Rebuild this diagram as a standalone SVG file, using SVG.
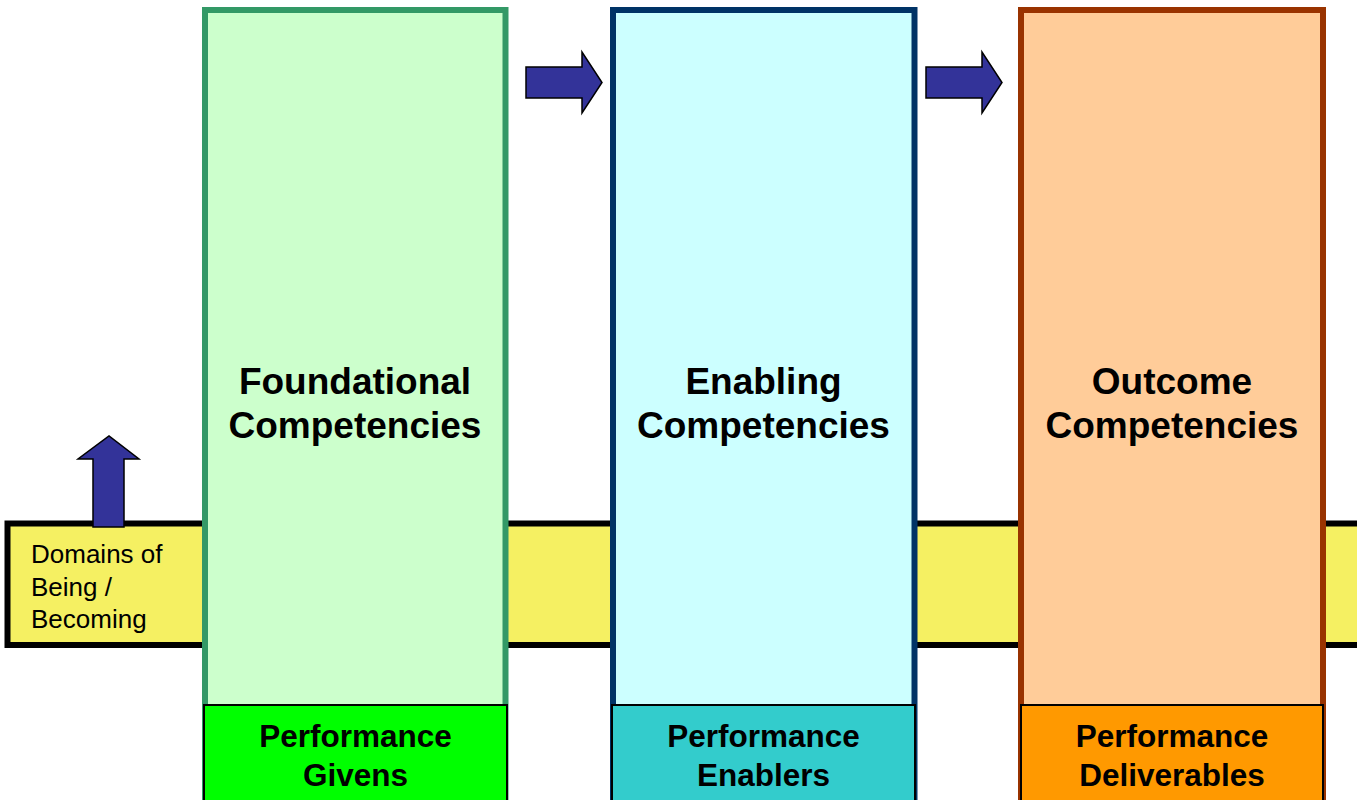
<svg xmlns="http://www.w3.org/2000/svg" width="1357" height="800" viewBox="0 0 1357 800">
  <defs>
    <style>
      .band { fill: #F5F062; stroke: #000000; stroke-width: 6; }
      .col { stroke-width: 6; }
      .arrow { fill: #333399; stroke: #000000; stroke-width: 1.5; stroke-linejoin: miter; }
      .perf { stroke: #000000; stroke-width: 2; }
      .title { font-family: "Liberation Sans", Arial, sans-serif; font-weight: bold; font-size: 37px; fill: #000000; text-anchor: middle; }
      .ptext { font-family: "Liberation Sans", Arial, sans-serif; font-weight: bold; font-size: 31.5px; fill: #000000; text-anchor: middle; }
      .dtext { font-family: "Liberation Sans", Arial, sans-serif; font-size: 26px; fill: #000000; }
    </style>
  </defs>
  <rect width="1357" height="800" fill="#FFFFFF"/>

  <!-- horizontal band behind the columns -->
  <g id="domains">
    <rect class="band" x="7.5" y="523.5" width="1360" height="121.5"/>
    <text class="dtext" x="31" y="563">Domains of</text>
    <text class="dtext" x="31" y="596">Being /</text>
    <text class="dtext" x="31" y="628">Becoming</text>
  </g>

  <g id="connectors">
    <!-- upward arrow on the band -->
    <polygon class="arrow" points="93,527 93,459 78,459 109,436 139,459 124,459 124,527"/>
    <!-- right arrows between columns -->
    <polygon class="arrow" points="526,67 582,67 582,52 602,82.5 582,113 582,98 526,98"/>
    <polygon class="arrow" points="926,67 982,67 982,52 1002,82.5 982,113 982,98 926,98"/>
  </g>

  <g id="foundational">
    <rect class="col" x="205" y="10" width="300.5" height="800" fill="#CCFFCC" stroke="#339966"/>
    <text class="title" x="355" y="394">Foundational</text>
    <text class="title" x="355" y="438">Competencies</text>
  </g>

  <g id="enabling">
    <rect class="col" x="613" y="10" width="301.5" height="800" fill="#CCFFFF" stroke="#003366"/>
    <text class="title" x="763.5" y="394">Enabling</text>
    <text class="title" x="763.5" y="438">Competencies</text>
  </g>

  <g id="outcome">
    <rect class="col" x="1021" y="10" width="302" height="800" fill="#FFCC99" stroke="#993300"/>
    <text class="title" x="1172" y="394">Outcome</text>
    <text class="title" x="1172" y="438">Competencies</text>
  </g>

  <g id="givens">
    <rect class="perf" x="204" y="705" width="303" height="110" fill="#00FF00"/>
    <text class="ptext" x="355.5" y="747">Performance</text>
    <text class="ptext" x="355.5" y="786">Givens</text>
  </g>

  <g id="enablers">
    <rect class="perf" x="612" y="705" width="303" height="110" fill="#33CCCC"/>
    <text class="ptext" x="763.5" y="747">Performance</text>
    <text class="ptext" x="763.5" y="786">Enablers</text>
  </g>

  <g id="deliverables">
    <rect class="perf" x="1021" y="705" width="302" height="110" fill="#FF9900"/>
    <text class="ptext" x="1172" y="747">Performance</text>
    <text class="ptext" x="1172" y="786">Deliverables</text>
  </g>
</svg>
